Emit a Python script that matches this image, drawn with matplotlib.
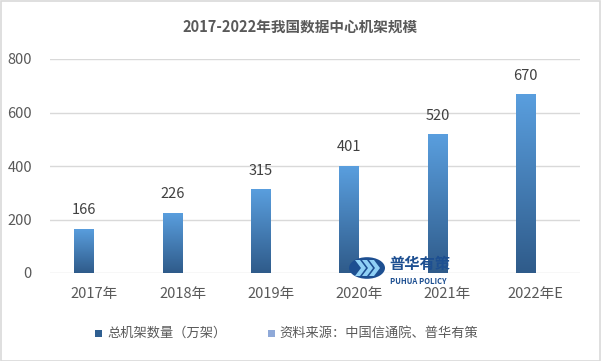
import matplotlib
matplotlib.use("Agg")
import matplotlib.pyplot as plt
import numpy as np
from matplotlib.patches import Rectangle, Circle, Polygon
from matplotlib.colors import LinearSegmentedColormap

plt.rcParams['font.family'] = ['Noto Sans CJK SC', 'DejaVu Sans']

categories = ["2017年", "2018年", "2019年", "2020年", "2021年", "2022年E"]
values = [166, 226, 315, 401, 520, 670]
series_name = "总机架数量（万架）"
source_name = "资料来源：中国信通院、普华有策"
title = "2017-2022年我国数据中心机架规模"
yticks = [0, 200, 400, 600, 800]

W, H = 601, 361
fig = plt.figure(figsize=(W / 100, H / 100), dpi=100)
fig.patch.set_facecolor("white")
# outer border
fig.add_artist(Rectangle((0.5 / W, 0.5 / H), 1 - 1.5 / W, 1 - 1.5 / H, transform=fig.transFigure,
                         fill=False, edgecolor="#d9d9d9", linewidth=1.2))

ax = fig.add_axes([50 / W, 1 - 273 / H, 530 / W, 214 / H])
ax.set_xlim(-0.5, len(categories) - 0.5)
ax.set_ylim(0, 800)
for s in ax.spines.values():
    s.set_visible(False)
ax.set_yticks(yticks)
ax.yaxis.grid(True, color="#d9d9d9", linewidth=1)
ax.set_axisbelow(True)
ax.tick_params(axis="both", length=0, colors="#595959", labelsize=10.5)
ax.tick_params(axis="y", pad=13)
ax.tick_params(axis="x", pad=10)
ax.set_xticks(range(len(categories)))
ax.set_xticklabels(categories)

cmap = LinearSegmentedColormap.from_list("g", ["#2f5b8a", "#5a9fdf"])
grad = np.linspace(0, 1, 256).reshape(-1, 1)
bw = 0.226
for i, v in enumerate(values):
    x0 = i - bw
    rect = Rectangle((x0, 0), bw, v, facecolor="none", edgecolor="none")
    ax.add_patch(rect)
    im = ax.imshow(grad, cmap=cmap, origin="lower", extent=[x0, x0 + bw, 0, v],
                   aspect="auto", zorder=2)
    im.set_clip_path(rect)
    ax.text(i - bw / 2, v + 42, str(v), ha="center", va="bottom", fontsize=10.5, color="#404040")
ax.set_xlim(-0.5, len(categories) - 0.5)
ax.set_ylim(0, 800)

fig.text(0.5, 1 - 27 / H, title, ha="center", va="center", fontsize=10.5,
         fontweight="bold", color="#595959")

# legend
fig.add_artist(Rectangle((95 / W, 1 - 337 / H), 7 / W, 7 / H, transform=fig.transFigure,
                         facecolor="#2f5f91", edgecolor="none"))
fig.text(107 / W, 1 - 333 / H, series_name, ha="left", va="center", fontsize=9.5, color="#595959")
fig.add_artist(Rectangle((268 / W, 1 - 337 / H), 7 / W, 7 / H, transform=fig.transFigure,
                         facecolor="#8fa9d8", edgecolor="none"))
fig.text(279 / W, 1 - 333 / H, source_name, ha="left", va="center", fontsize=9.5, color="#595959")

# watermark logo
cx, cy, r = 367, 268, 18
fig.add_artist(Circle((cx / W, 1 - cy / H), r / W, transform=fig.transFigure,
                      facecolor="#1d4f91", edgecolor="none", zorder=5))
for dx in (-7, 0, 7):
    pts = [((cx + dx - 5) / W, 1 - (cy - 8) / H), ((cx + dx) / W, 1 - (cy - 8) / H),
           ((cx + dx + 6) / W, 1 - cy / H), ((cx + dx) / W, 1 - (cy + 8) / H),
           ((cx + dx - 5) / W, 1 - (cy + 8) / H), ((cx + dx + 1) / W, 1 - cy / H)]
    fig.add_artist(Polygon(pts, closed=True, transform=fig.transFigure,
                           facecolor="#8fd0f5", edgecolor="none", zorder=6))
fig.text(389 / W, 1 - 264 / H, "普华有策", ha="left", va="center", fontsize=11,
         fontweight="bold", color="#1d4f91", zorder=6)
fig.text(390 / W, 1 - 281 / H, "PUHUA POLICY", ha="left", va="center", fontsize=5.5,
         fontweight="bold", color="#1d4f91", zorder=6)

fig.savefig("out.png", dpi=100, facecolor="white")
